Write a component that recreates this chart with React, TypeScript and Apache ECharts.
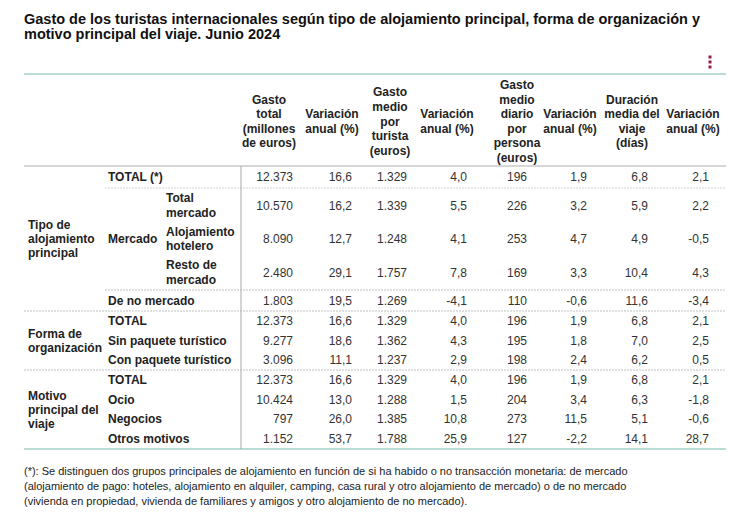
import React, { useEffect, useRef } from "react";
import * as echarts from "echarts";

const titleLines = [
  "Gasto de los turistas internacionales según tipo de alojamiento principal, forma de organización y",
  "motivo principal del viaje. Junio 2024",
];

const columnHeaders: string[][] = [
  ["Gasto", "total", "(millones", "de euros)"],
  ["Variación", "anual (%)"],
  ["Gasto", "medio", "por", "turista", "(euros)"],
  ["Variación", "anual (%)"],
  ["Gasto", "medio", "diario", "por", "persona", "(euros)"],
  ["Variación", "anual (%)"],
  ["Duración", "media del", "viaje", "(días)"],
  ["Variación", "anual (%)"],
];

const groupLabels: string[][] = [
  ["Tipo de", "alojamiento", "principal"],
  ["Forma de", "organización"],
  ["Motivo", "principal del", "viaje"],
];

const rowLabels: string[][] = [
  ["TOTAL (*)"],
  ["Total", "mercado"],
  ["Alojamiento", "hotelero"],
  ["Resto de", "mercado"],
  ["De no mercado"],
  ["TOTAL"],
  ["Sin paquete turístico"],
  ["Con paquete turístico"],
  ["TOTAL"],
  ["Ocio"],
  ["Negocios"],
  ["Otros motivos"],
];

const subGroupLabel = "Mercado";

const gastoTotal = [12373, 10570, 8090, 2480, 1803, 12373, 9277, 3096, 12373, 10424, 797, 1152];
const varGastoTotal = [16.6, 16.2, 12.7, 29.1, 19.5, 16.6, 18.6, 11.1, 16.6, 13.0, 26.0, 53.7];
const gastoMedio = [1329, 1339, 1248, 1757, 1269, 1329, 1362, 1237, 1329, 1288, 1385, 1788];
const varGastoMedio = [4.0, 5.5, 4.1, 7.8, -4.1, 4.0, 4.3, 2.9, 4.0, 1.5, 10.8, 25.9];
const gastoDiario = [196, 226, 253, 169, 110, 196, 195, 198, 196, 204, 273, 127];
const varGastoDiario = [1.9, 3.2, 4.7, 3.3, -0.6, 1.9, 1.8, 2.4, 1.9, 3.4, 11.5, -2.2];
const duracionMedia = [6.8, 5.9, 4.9, 10.4, 11.6, 6.8, 7.0, 6.2, 6.8, 6.3, 5.1, 14.1];
const varDuracion = [2.1, 2.2, -0.5, 4.3, -3.4, 2.1, 2.5, 0.5, 2.1, -1.8, -0.6, 28.7];

const footnoteLines = [
  "(*): Se distinguen dos grupos principales de alojamiento en función de si ha habido o no transacción monetaria: de mercado",
  "(alojamiento de pago: hoteles, alojamiento en alquiler, camping, casa rural y otro alojamiento de mercado) o de no mercado",
  "(vivienda en propiedad, vivienda de familiares y amigos y otro alojamiento de no mercado).",
];

function fmtInt(v: number): string {
  const s = Math.round(Math.abs(v)).toString();
  const out = s.replace(/\B(?=(\d{3})+(?!\d))/g, ".");
  return (v < 0 ? "-" : "") + out;
}
function fmtDec(v: number): string {
  return v.toFixed(1).replace(".", ",");
}

const FONT = "'Liberation Sans', Arial, Helvetica, sans-serif";

export default function App() {
  const ref = useRef<HTMLDivElement>(null);
  useEffect(() => {
    if (!ref.current) return;
    const chart = echarts.init(ref.current, undefined, { renderer: "svg" });

    const els: any[] = [];
    const text = (t: string, x: number, y: number, opts: any = {}) => {
      els.push({
        type: "text",
        silent: true,
        style: {
          text: t,
          x,
          y,
          fill: opts.fill || "#222",
          font: `${opts.weight || "normal"} ${opts.size || 12}px ${FONT}`,
          align: opts.align || "left",
          verticalAlign: "middle",
        },
      });
    };
    const line = (x1: number, y1: number, x2: number, y2: number, stroke: string, w = 1, dash?: number[]) => {
      els.push({
        type: "line",
        silent: true,
        shape: { x1, y1, x2, y2 },
        style: { stroke, lineWidth: w, lineDash: dash },
      });
    };

    // Title
    titleLines.forEach((t, i) => text(t, 24, 19 + i * 15, { weight: "bold", size: 14.5, fill: "#111" }));

    // Menu icon
    [57, 62, 67].forEach((cy) => {
      els.push({
        type: "rect",
        silent: true,
        shape: { x: 708.5, y: cy - 1.5, width: 3, height: 3 },
        style: { fill: "#9b1b45" },
      });
    });

    // Table geometry
    const left = 24;
    const right = 726;
    const topLine = 74;
    const headerBottom = 166;
    const bottomLine = 449;
    const vLineX = 241;

    const headerCenters = [269, 332, 390, 447, 517, 570, 632, 693];
    const valueRights = [293, 352, 407, 467, 527, 587, 648, 709];
    const headerMid = 121.5;
    const headerLH = 14.6;

    columnHeaders.forEach((lines, c) => {
      const n = lines.length;
      lines.forEach((t, i) => {
        text(t, headerCenters[c], headerMid + (i - (n - 1) / 2) * headerLH, {
          weight: "bold",
          align: "center",
          fill: "#222",
        });
      });
    });

    // Rows layout
    const rowY = [177, 205.5, 239, 272.5, 300.5, 321, 340.5, 360, 380, 399.5, 419, 439];
    const labelX = [108, 166, 166, 166, 108, 108, 108, 108, 108, 108, 108, 108];
    const twoLineGap = 14.6;

    rowLabels.forEach((lines, r) => {
      const n = lines.length;
      lines.forEach((t, i) => {
        text(t, labelX[r], rowY[r] + (i - (n - 1) / 2) * twoLineGap, { weight: "bold" });
      });
    });
    text(subGroupLabel, 108, rowY[2], { weight: "bold" });

    const groupCenters = [239, 341, 409.5];
    groupLabels.forEach((lines, g) => {
      const n = lines.length;
      lines.forEach((t, i) => {
        text(t, 28, groupCenters[g] + (i - (n - 1) / 2) * 14, { weight: "bold" });
      });
    });

    const columns = [
      gastoTotal.map(fmtInt),
      varGastoTotal.map(fmtDec),
      gastoMedio.map(fmtInt),
      varGastoMedio.map(fmtDec),
      gastoDiario.map(fmtInt),
      varGastoDiario.map(fmtDec),
      duracionMedia.map(fmtDec),
      varDuracion.map(fmtDec),
    ];
    columns.forEach((col, c) => {
      col.forEach((v, r) => {
        text(v, valueRights[c], rowY[r], { align: "right", fill: "#333" });
      });
    });

    // Lines
    line(left, topLine, right, topLine, "#b9dcd6", 2);
    line(left, headerBottom, right, headerBottom, "#c8c8c8", 1.5);
    line(105, 188, right, 188, "#d6d6d6", 1, [2, 1]);
    line(105, 290, right, 290, "#d6d6d6", 1.5, [2, 1]);
    line(left, 311, right, 311, "#d6d6d6", 1.5, [2, 1]);
    line(left, 370, right, 370, "#d6d6d6", 1.5, [2, 1]);
    line(left, bottomLine, right, bottomLine, "#b9dcd6", 2);
    line(vLineX, headerBottom, vLineX, bottomLine, "#a8a8a8", 1);

    // Footnote
    footnoteLines.forEach((t, i) => text(t, 24, 471 + i * 15, { size: 11, fill: "#222" }));

    chart.setOption({
      animation: false,
      backgroundColor: "#ffffff",
      graphic: { elements: els },
    });
    return () => chart.dispose();
  }, []);

  return (
    <div
      ref={ref}
      style={{ position: "fixed", left: 0, top: 0, width: 750, height: 518, background: "#fff" }}
    />
  );
}
